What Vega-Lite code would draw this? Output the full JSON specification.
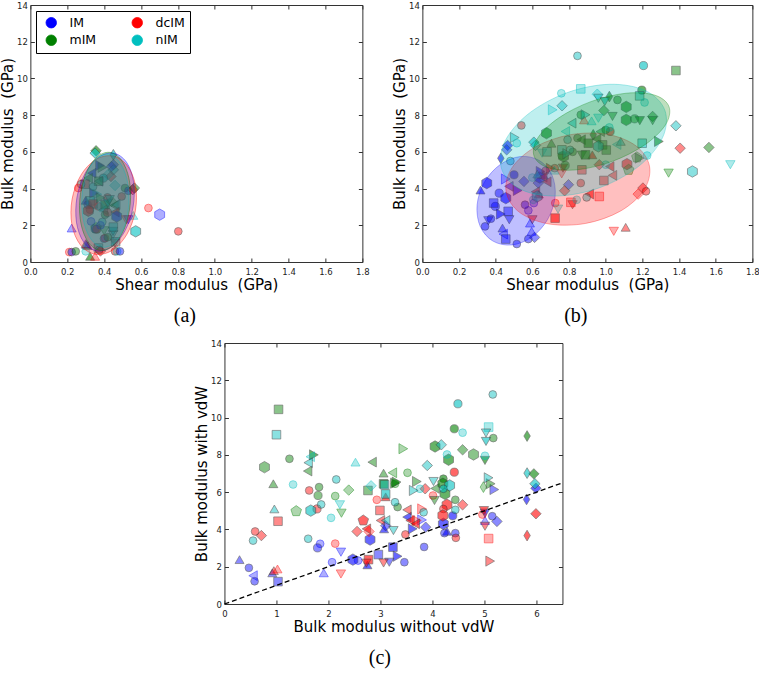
{
"$schema": "https://vega.github.io/schema/vega-lite/v6.json",
"padding": 0,
"background": "white",
"config": {
  "font": "DejaVu Sans",
  "view": {"stroke": "#333", "strokeWidth": 1},
  "axis": {"grid": false, "domain": false, "tickSize": -4, "tickColor": "#333", "tickWidth": 1, "labelFontSize": 8.5, "labelColor": "#222", "labelPadding": 9.5, "labelFlush": false, "titleFontSize": 15, "titleFontWeight": "normal", "titleColor": "#000", "titlePadding": 1},
  "axisY": {"labelPadding": 7, "titlePadding": 1}
},
"datasets": {
"pa": [
{"x":0.356,"y":6.06,"g":"mIM","m":"D","f":"full"},
{"x":0.351,"y":5.93,"g":"nIM","m":"D","f":"full"},
{"x":0.45,"y":5.84,"g":"nIM","m":"d","f":"full"},
{"x":0.378,"y":5.26,"g":"IM","m":">","f":"full"},
{"x":0.45,"y":5.3,"g":"IM","m":"D","f":"half"},
{"x":0.39,"y":5.15,"g":"mIM","m":">","f":"half"},
{"x":0.45,"y":5.02,"g":"nIM","m":"D","f":"half"},
{"x":0.437,"y":4.66,"g":"dcIM","m":"D","f":"half"},
{"x":0.42,"y":4.75,"g":"nIM","m":"D","f":"none"},
{"x":0.396,"y":4.57,"g":"nIM","m":"O","f":"full"},
{"x":0.333,"y":4.84,"g":"IM","m":"<","f":"full"},
{"x":0.314,"y":4.57,"g":"mIM","m":"<","f":"half"},
{"x":0.37,"y":4.4,"g":"nIM","m":"<","f":"half"},
{"x":0.459,"y":4.17,"g":"nIM","m":"D","f":"none"},
{"x":0.296,"y":4.24,"g":"dcIM","m":"s","f":"half"},
{"x":0.275,"y":4.24,"g":"nIM","m":"o","f":"half"},
{"x":0.26,"y":4.03,"g":"dcIM","m":"o","f":"none"},
{"x":0.513,"y":4.03,"g":"mIM","m":"o","f":"half"},
{"x":0.531,"y":3.88,"g":"IM","m":"o","f":"half"},
{"x":0.555,"y":3.94,"g":"dcIM","m":"D","f":"half"},
{"x":0.564,"y":4.03,"g":"mIM","m":"D","f":"half"},
{"x":0.345,"y":3.75,"g":"IM","m":">","f":"full"},
{"x":0.363,"y":3.69,"g":"nIM","m":">","f":"none"},
{"x":0.418,"y":3.52,"g":"dcIM","m":"o","f":"half"},
{"x":0.495,"y":3.57,"g":"dcIM","m":"o","f":"half"},
{"x":0.3,"y":3.36,"g":"IM","m":"^","f":"full"},
{"x":0.311,"y":3.12,"g":"IM","m":"o","f":"half"},
{"x":0.325,"y":3.33,"g":"nIM","m":"s","f":"half"},
{"x":0.34,"y":3.16,"g":"dcIM","m":"s","f":"full"},
{"x":0.323,"y":2.85,"g":"dcIM","m":"o","f":"half"},
{"x":0.314,"y":2.79,"g":"dcIM","m":"h","f":"full"},
{"x":0.369,"y":3.03,"g":"dcIM","m":"o","f":"none"},
{"x":0.395,"y":2.85,"g":"nIM","m":"<","f":"half"},
{"x":0.405,"y":3.12,"g":"mIM","m":"s","f":"full"},
{"x":0.42,"y":3.2,"g":"nIM","m":"v","f":"full"},
{"x":0.454,"y":3.08,"g":"mIM","m":"<","f":"half"},
{"x":0.463,"y":3.12,"g":"nIM","m":"<","f":"half"},
{"x":0.459,"y":2.72,"g":"dcIM","m":"<","f":"full"},
{"x":0.468,"y":2.48,"g":"IM","m":"h","f":"full"},
{"x":0.405,"y":2.58,"g":"mIM","m":"o","f":"half"},
{"x":0.418,"y":2.7,"g":"dcIM","m":"O","f":"half"},
{"x":0.329,"y":2.21,"g":"IM","m":"o","f":"none"},
{"x":0.39,"y":2.18,"g":"nIM","m":"o","f":"half"},
{"x":0.356,"y":1.85,"g":"mIM","m":"p","f":"none"},
{"x":0.351,"y":1.8,"g":"IM","m":"O","f":"half"},
{"x":0.36,"y":1.78,"g":"dcIM","m":"O","f":"half"},
{"x":0.224,"y":1.85,"g":"IM","m":"^","f":"none"},
{"x":0.4,"y":1.7,"g":"mIM","m":"v","f":"none"},
{"x":0.399,"y":1.27,"g":"IM","m":"o","f":"half"},
{"x":0.405,"y":1.3,"g":"dcIM","m":"o","f":"none"},
{"x":0.448,"y":1.49,"g":"nIM","m":"v","f":"half"},
{"x":0.448,"y":1.67,"g":"nIM","m":"v","f":"full"},
{"x":0.459,"y":1.03,"g":"dcIM","m":"v","f":"half"},
{"x":0.462,"y":1.1,"g":"nIM","m":"s","f":"half"},
{"x":0.311,"y":0.89,"g":"mIM","m":"^","f":"half"},
{"x":0.303,"y":0.95,"g":"IM","m":"^","f":"full"},
{"x":0.369,"y":0.76,"g":"nIM","m":"s","f":"half"},
{"x":0.373,"y":0.66,"g":"nIM","m":"o","f":"half"},
{"x":0.38,"y":0.6,"g":"dcIM","m":"D","f":"half"},
{"x":0.459,"y":0.58,"g":"dcIM","m":"o","f":"half"},
{"x":0.47,"y":0.58,"g":"nIM","m":"o","f":"none"},
{"x":0.486,"y":0.58,"g":"IM","m":"o","f":"half"},
{"x":0.211,"y":0.54,"g":"dcIM","m":"o","f":"none"},
{"x":0.224,"y":0.54,"g":"IM","m":"o","f":"half"},
{"x":0.246,"y":0.58,"g":"mIM","m":"o","f":"half"},
{"x":0.3,"y":0.58,"g":"nIM","m":"o","f":"none"},
{"x":0.324,"y":0.31,"g":"mIM","m":"^","f":"full"},
{"x":0.351,"y":0.31,"g":"dcIM","m":"^","f":"none"},
{"x":0.64,"y":2.94,"g":"dcIM","m":"o","f":"none"},
{"x":0.701,"y":2.58,"g":"IM","m":"h","f":"none"},
{"x":0.802,"y":1.67,"g":"dcIM","m":"o","f":"half"},
{"x":0.571,"y":1.67,"g":"nIM","m":"h","f":"full"},
{"x":0.558,"y":2.54,"g":"nIM","m":"^","f":"none"},
{"x":0.531,"y":2.3,"g":"IM","m":"v","f":"none"},
{"x":0.52,"y":2.3,"g":"dcIM","m":"v","f":"none"},
{"x":0.38,"y":3.5,"g":"mIM","m":">","f":"half"},
{"x":0.34,"y":4.1,"g":"nIM","m":"o","f":"half"},
{"x":0.44,"y":3.3,"g":"mIM","m":"D","f":"none"},
{"x":0.45,"y":1.9,"g":"nIM","m":"s","f":"half"},
{"x":0.38,"y":2.0,"g":"IM","m":"o","f":"none"},
{"x":0.42,"y":1.35,"g":"mIM","m":"o","f":"half"},
{"x":0.3,"y":1.0,"g":"nIM","m":"^","f":"half"},
{"x":0.38,"y":3.0,"g":"nIM","m":"D","f":"none"},
{"x":0.43,"y":3.4,"g":"nIM","m":"v","f":"half"},
{"x":0.37,"y":4.4,"g":"mIM","m":"s","f":"half"},
{"x":0.44,"y":5.2,"g":"IM","m":"D","f":"half"}
],
"pb": [
{"x":0.5,"y":4.75,"g":"IM","m":"O","f":"full"},
{"x":0.554,"y":4.39,"g":"IM","m":"D","f":"half"},
{"x":0.52,"y":3.9,"g":"IM","m":">","f":"full"},
{"x":0.56,"y":3.12,"g":"IM","m":"o","f":"half"},
{"x":0.578,"y":2.81,"g":"IM","m":"o","f":"none"},
{"x":0.608,"y":3.21,"g":"IM","m":"o","f":"none"},
{"x":0.472,"y":4.12,"g":"IM","m":"<","f":"half"},
{"x":0.455,"y":4.52,"g":"IM","m":">","f":"none"},
{"x":0.419,"y":3.75,"g":"IM","m":"O","f":"half"},
{"x":0.455,"y":3.48,"g":"IM","m":"h","f":"full"},
{"x":0.351,"y":4.3,"g":"IM","m":"h","f":"full"},
{"x":0.317,"y":3.92,"g":"IM","m":"^","f":"full"},
{"x":0.398,"y":3.03,"g":"IM","m":"O","f":"half"},
{"x":0.428,"y":2.61,"g":"IM","m":">","f":"full"},
{"x":0.468,"y":2.76,"g":"IM","m":"s","f":"half"},
{"x":0.474,"y":2.3,"g":"IM","m":"v","f":"half"},
{"x":0.374,"y":2.36,"g":"IM","m":"o","f":"half"},
{"x":0.36,"y":2.25,"g":"IM","m":"v","f":"half"},
{"x":0.342,"y":1.94,"g":"IM","m":"o","f":"half"},
{"x":0.437,"y":1.85,"g":"IM","m":"^","f":"half"},
{"x":0.441,"y":1.52,"g":"IM","m":"<","f":"none"},
{"x":0.455,"y":1.25,"g":"IM","m":"s","f":"half"},
{"x":0.515,"y":0.98,"g":"IM","m":"o","f":"half"},
{"x":0.578,"y":1.25,"g":"IM","m":"o","f":"half"},
{"x":0.612,"y":1.34,"g":"IM","m":"D","f":"half"},
{"x":0.596,"y":1.67,"g":"IM","m":"^","f":"none"},
{"x":0.587,"y":2.12,"g":"IM","m":"^","f":"none"},
{"x":0.465,"y":6.35,"g":"IM","m":"D","f":"full"},
{"x":0.46,"y":6.11,"g":"IM","m":"D","f":"half"},
{"x":0.428,"y":5.65,"g":"IM","m":"d","f":"full"},
{"x":0.645,"y":4.93,"g":"IM","m":">","f":"full"},
{"x":0.632,"y":4.3,"g":"IM","m":"D","f":"half"},
{"x":0.797,"y":4.21,"g":"IM","m":"D","f":"half"},
{"x":0.389,"y":3.21,"g":"IM","m":"s","f":"half"},
{"x":0.66,"y":4.75,"g":"IM","m":"^","f":"full"},
{"x":0.64,"y":4.6,"g":"IM","m":"h","f":"full"},
{"x":0.54,"y":7.44,"g":"dcIM","m":"o","f":"half"},
{"x":1.024,"y":7.11,"g":"dcIM","m":"O","f":"full"},
{"x":0.882,"y":7.74,"g":"dcIM","m":"^","f":"none"},
{"x":0.927,"y":5.84,"g":"dcIM","m":"^","f":"full"},
{"x":0.767,"y":5.11,"g":"dcIM","m":"v","f":"full"},
{"x":0.722,"y":5.11,"g":"dcIM","m":"o","f":"half"},
{"x":0.7,"y":5.1,"g":"dcIM","m":">","f":"full"},
{"x":0.87,"y":5.02,"g":"dcIM","m":"s","f":"half"},
{"x":0.965,"y":5.3,"g":"dcIM","m":"D","f":"half"},
{"x":1.022,"y":5.2,"g":"dcIM","m":"<","f":"full"},
{"x":1.037,"y":4.72,"g":"dcIM","m":"<","f":"half"},
{"x":0.99,"y":4.44,"g":"dcIM","m":"s","f":"half"},
{"x":1.116,"y":5.33,"g":"dcIM","m":"h","f":"full"},
{"x":1.203,"y":4.03,"g":"dcIM","m":"D","f":"half"},
{"x":1.22,"y":3.85,"g":"dcIM","m":"o","f":"half"},
{"x":1.177,"y":3.7,"g":"dcIM","m":"D","f":"none"},
{"x":1.109,"y":1.89,"g":"dcIM","m":"^","f":"half"},
{"x":1.044,"y":1.67,"g":"dcIM","m":"v","f":"none"},
{"x":0.965,"y":3.57,"g":"dcIM","m":"s","f":"none"},
{"x":0.911,"y":3.7,"g":"dcIM","m":"<","f":"full"},
{"x":0.819,"y":3.12,"g":"dcIM","m":"v","f":"half"},
{"x":0.81,"y":3.25,"g":"dcIM","m":"s","f":"none"},
{"x":0.725,"y":3.21,"g":"dcIM","m":"o","f":"none"},
{"x":0.724,"y":2.39,"g":"dcIM","m":"s","f":"full"},
{"x":0.864,"y":4.3,"g":"dcIM","m":"o","f":"half"},
{"x":0.776,"y":3.88,"g":"dcIM","m":"D","f":"half"},
{"x":0.672,"y":4.97,"g":"dcIM","m":"o","f":"half"},
{"x":0.657,"y":4.62,"g":"dcIM","m":"<","f":"full"},
{"x":0.679,"y":4.37,"g":"dcIM","m":"<","f":"full"},
{"x":0.617,"y":3.83,"g":"dcIM","m":"<","f":"full"},
{"x":0.635,"y":3.7,"g":"dcIM","m":"^","f":"full"},
{"x":0.6,"y":2.3,"g":"dcIM","m":"v","f":"half"},
{"x":1.406,"y":6.2,"g":"dcIM","m":"D","f":"half"},
{"x":0.76,"y":4.8,"g":"dcIM","m":"v","f":"none"},
{"x":1.383,"y":10.43,"g":"mIM","m":"s","f":"half"},
{"x":1.197,"y":9.36,"g":"mIM","m":"O","f":"full"},
{"x":1.02,"y":9.01,"g":"mIM","m":"d","f":"full"},
{"x":1.064,"y":8.83,"g":"mIM","m":"o","f":"half"},
{"x":1.112,"y":8.45,"g":"mIM","m":"h","f":"full"},
{"x":0.864,"y":8.02,"g":"mIM","m":"o","f":"half"},
{"x":0.99,"y":8.25,"g":"mIM","m":"D","f":"half"},
{"x":1.037,"y":7.93,"g":"mIM","m":"v","f":"half"},
{"x":1.112,"y":7.74,"g":"mIM","m":"h","f":"full"},
{"x":1.158,"y":7.8,"g":"mIM","m":"O","f":"half"},
{"x":1.186,"y":7.7,"g":"mIM","m":"v","f":"full"},
{"x":1.256,"y":7.93,"g":"mIM","m":"D","f":"half"},
{"x":1.256,"y":7.7,"g":"mIM","m":"v","f":"half"},
{"x":0.677,"y":7.02,"g":"mIM","m":"h","f":"full"},
{"x":0.932,"y":6.93,"g":"mIM","m":"d","f":"full"},
{"x":0.97,"y":7.1,"g":"mIM","m":"<","f":"half"},
{"x":1.29,"y":6.57,"g":"mIM","m":">","f":"full"},
{"x":0.704,"y":6.47,"g":"mIM","m":"^","f":"half"},
{"x":0.846,"y":6.75,"g":"mIM","m":"o","f":"half"},
{"x":0.866,"y":6.66,"g":"mIM","m":"<","f":"full"},
{"x":0.905,"y":6.47,"g":"mIM","m":"s","f":"full"},
{"x":0.983,"y":6.38,"g":"mIM","m":"s","f":"half"},
{"x":1.003,"y":6.1,"g":"mIM","m":"s","f":"half"},
{"x":0.77,"y":5.75,"g":"mIM","m":"h","f":"full"},
{"x":0.87,"y":5.82,"g":"mIM","m":"v","f":"half"},
{"x":0.89,"y":5.84,"g":"mIM","m":"s","f":"full"},
{"x":0.779,"y":5.26,"g":"mIM","m":"O","f":"half"},
{"x":1.125,"y":5.02,"g":"mIM","m":"p","f":"none"},
{"x":1.185,"y":5.66,"g":"mIM","m":">","f":"half"},
{"x":1.563,"y":6.24,"g":"mIM","m":"D","f":"half"},
{"x":1.343,"y":4.84,"g":"mIM","m":"v","f":"none"},
{"x":0.82,"y":6.0,"g":"mIM","m":"o","f":"half"},
{"x":0.76,"y":5.8,"g":"mIM","m":"o","f":"none"},
{"x":1.17,"y":5.7,"g":"mIM","m":"p","f":"none"},
{"x":0.95,"y":6.7,"g":"mIM","m":"<","f":"full"},
{"x":1.0,"y":7.2,"g":"mIM","m":"o","f":"half"},
{"x":0.846,"y":11.23,"g":"nIM","m":"o","f":"half"},
{"x":1.206,"y":10.7,"g":"nIM","m":"O","f":"full"},
{"x":0.864,"y":9.43,"g":"nIM","m":"s","f":"none"},
{"x":0.758,"y":9.19,"g":"nIM","m":"o","f":"none"},
{"x":0.954,"y":9.14,"g":"nIM","m":"D","f":"none"},
{"x":0.96,"y":8.92,"g":"nIM","m":"v","f":"half"},
{"x":0.995,"y":8.74,"g":"nIM","m":"v","f":"full"},
{"x":1.185,"y":9.05,"g":"nIM","m":"s","f":"half"},
{"x":1.212,"y":8.69,"g":"nIM","m":"o","f":"none"},
{"x":0.762,"y":8.51,"g":"nIM","m":"D","f":"half"},
{"x":0.711,"y":8.29,"g":"nIM","m":">","f":"none"},
{"x":0.89,"y":8.02,"g":"nIM","m":">","f":"half"},
{"x":0.96,"y":7.83,"g":"nIM","m":"v","f":"none"},
{"x":0.923,"y":7.69,"g":"nIM","m":"^","f":"none"},
{"x":0.815,"y":7.56,"g":"nIM","m":"<","f":"half"},
{"x":0.78,"y":7.11,"g":"nIM","m":"<","f":"none"},
{"x":1.02,"y":7.33,"g":"nIM","m":"o","f":"none"},
{"x":1.199,"y":6.47,"g":"nIM","m":"s","f":"half"},
{"x":1.082,"y":6.57,"g":"nIM","m":"^","f":"half"},
{"x":1.06,"y":6.4,"g":"nIM","m":"<","f":"none"},
{"x":1.383,"y":7.42,"g":"nIM","m":"D","f":"half"},
{"x":0.504,"y":6.78,"g":"nIM","m":">","f":"half"},
{"x":0.515,"y":6.47,"g":"nIM","m":"o","f":"none"},
{"x":0.608,"y":6.53,"g":"nIM","m":"D","f":"full"},
{"x":0.617,"y":6.35,"g":"nIM","m":"D","f":"half"},
{"x":0.792,"y":6.66,"g":"nIM","m":"o","f":"half"},
{"x":0.653,"y":5.93,"g":"nIM","m":"v","f":"none"},
{"x":0.68,"y":6.0,"g":"nIM","m":"s","f":"half"},
{"x":0.761,"y":6.11,"g":"nIM","m":"s","f":"half"},
{"x":0.806,"y":6.11,"g":"nIM","m":"o","f":"half"},
{"x":0.79,"y":5.9,"g":"nIM","m":">","f":"half"},
{"x":0.627,"y":4.79,"g":"nIM","m":"^","f":"full"},
{"x":0.6,"y":4.6,"g":"nIM","m":"o","f":"none"},
{"x":0.626,"y":3.57,"g":"nIM","m":"h","f":"full"},
{"x":0.605,"y":3.39,"g":"nIM","m":"o","f":"none"},
{"x":0.896,"y":3.52,"g":"nIM","m":"o","f":"half"},
{"x":0.842,"y":3.39,"g":"nIM","m":"o","f":"none"},
{"x":0.74,"y":2.88,"g":"nIM","m":"v","f":"none"},
{"x":1.473,"y":4.93,"g":"nIM","m":"h","f":"half"},
{"x":1.68,"y":5.3,"g":"nIM","m":"v","f":"none"},
{"x":1.226,"y":5.8,"g":"nIM","m":"o","f":"none"},
{"x":0.48,"y":5.5,"g":"nIM","m":"o","f":"half"},
{"x":0.96,"y":6.3,"g":"nIM","m":"h","f":"full"},
{"x":1.0,"y":5.3,"g":"nIM","m":"o","f":"none"},
{"x":0.72,"y":5.0,"g":"nIM","m":"^","f":"none"}
],
"pc": [
{"x":0.29,"y":2.38,"g":"IM","m":"^","f":"half"},
{"x":0.47,"y":1.94,"g":"IM","m":"o","f":"half"},
{"x":0.58,"y":1.22,"g":"IM","m":"o","f":"half"},
{"x":0.55,"y":1.52,"g":"IM","m":"<","f":"none"},
{"x":0.92,"y":1.67,"g":"IM","m":"^","f":"half"},
{"x":1.03,"y":1.2,"g":"IM","m":"s","f":"half"},
{"x":1.84,"y":3.23,"g":"IM","m":"o","f":"none"},
{"x":1.79,"y":3.01,"g":"IM","m":"O","f":"half"},
{"x":2.24,"y":2.78,"g":"IM","m":"v","f":"none"},
{"x":2.8,"y":3.46,"g":"IM","m":"h","f":"full"},
{"x":3.07,"y":4.03,"g":"IM","m":"^","f":"full"},
{"x":3.1,"y":4.2,"g":"IM","m":"D","f":"half"},
{"x":3.24,"y":3.05,"g":"IM","m":"s","f":"full"},
{"x":2.96,"y":2.65,"g":"IM","m":"s","f":"half"},
{"x":3.33,"y":2.56,"g":"IM","m":">","f":"full"},
{"x":3.17,"y":2.24,"g":"IM","m":"v","f":"half"},
{"x":2.47,"y":2.38,"g":"IM","m":"h","f":"full"},
{"x":2.57,"y":2.33,"g":"IM","m":"o","f":"none"},
{"x":2.07,"y":2.24,"g":"IM","m":"o","f":"none"},
{"x":1.91,"y":1.67,"g":"IM","m":"^","f":"none"},
{"x":2.75,"y":2.1,"g":"IM","m":"^","f":"full"},
{"x":3.51,"y":4.66,"g":"IM","m":"<","f":"full"},
{"x":3.8,"y":4.51,"g":"IM","m":">","f":"none"},
{"x":3.62,"y":4.03,"g":"IM","m":">","f":"full"},
{"x":3.87,"y":4.12,"g":"IM","m":"D","f":"half"},
{"x":4.21,"y":4.3,"g":"IM","m":"h","f":"full"},
{"x":4.28,"y":3.9,"g":"IM","m":"^","f":"full"},
{"x":4.23,"y":3.8,"g":"IM","m":"o","f":"half"},
{"x":4.44,"y":3.8,"g":"IM","m":"o","f":"half"},
{"x":4.39,"y":4.73,"g":"IM","m":"O","f":"full"},
{"x":5.01,"y":4.87,"g":"IM","m":"v","f":"full"},
{"x":5.15,"y":4.71,"g":"IM","m":"o","f":"half"},
{"x":5.01,"y":4.48,"g":"IM","m":"^","f":"none"},
{"x":5.24,"y":4.43,"g":"IM","m":"D","f":"half"},
{"x":5.19,"y":6.14,"g":"IM","m":">","f":"half"},
{"x":5.99,"y":6.21,"g":"IM","m":"D","f":"full"},
{"x":5.81,"y":5.61,"g":"IM","m":"d","f":"full"},
{"x":3.84,"y":3.06,"g":"IM","m":"o","f":"half"},
{"x":3.46,"y":2.24,"g":"IM","m":"o","f":"half"},
{"x":1.63,"y":6.09,"g":"dcIM","m":"o","f":"half"},
{"x":1.78,"y":5.1,"g":"dcIM","m":"O","f":"half"},
{"x":2.93,"y":5.59,"g":"dcIM","m":"o","f":"none"},
{"x":2.99,"y":5.02,"g":"dcIM","m":"s","f":"half"},
{"x":3.1,"y":5.75,"g":"dcIM","m":"^","f":"full"},
{"x":1.03,"y":4.44,"g":"dcIM","m":"s","f":"half"},
{"x":0.59,"y":3.89,"g":"dcIM","m":"o","f":"half"},
{"x":0.71,"y":3.67,"g":"dcIM","m":"D","f":"half"},
{"x":2.13,"y":3.24,"g":"dcIM","m":"o","f":"none"},
{"x":2.67,"y":4.48,"g":"dcIM","m":"p","f":"full"},
{"x":2.73,"y":4.03,"g":"dcIM","m":"<","f":"full"},
{"x":2.78,"y":3.89,"g":"dcIM","m":"D","f":"none"},
{"x":2.55,"y":3.89,"g":"dcIM","m":"D","f":"half"},
{"x":3.0,"y":4.48,"g":"dcIM","m":"<","f":"half"},
{"x":2.77,"y":2.38,"g":"dcIM","m":"s","f":"full"},
{"x":2.73,"y":2.19,"g":"dcIM","m":"v","f":"half"},
{"x":3.06,"y":2.2,"g":"dcIM","m":"v","f":"half"},
{"x":2.24,"y":1.61,"g":"dcIM","m":"v","f":"none"},
{"x":0.95,"y":1.79,"g":"dcIM","m":"^","f":"half"},
{"x":1.02,"y":1.88,"g":"dcIM","m":"^","f":"none"},
{"x":4.42,"y":7.07,"g":"dcIM","m":"O","f":"full"},
{"x":3.86,"y":6.18,"g":"dcIM","m":"D","f":"half"},
{"x":4.01,"y":5.82,"g":"dcIM","m":"o","f":"none"},
{"x":4.58,"y":5.32,"g":"dcIM","m":"D","f":"half"},
{"x":4.28,"y":5.32,"g":"dcIM","m":"h","f":"full"},
{"x":4.21,"y":5.1,"g":"dcIM","m":"o","f":"half"},
{"x":4.2,"y":4.75,"g":"dcIM","m":"h","f":"full"},
{"x":3.51,"y":5.05,"g":"dcIM","m":"<","f":"half"},
{"x":3.8,"y":5.1,"g":"dcIM","m":">","f":"none"},
{"x":3.57,"y":4.48,"g":"dcIM","m":"<","f":"full"},
{"x":3.7,"y":4.48,"g":"dcIM","m":">","f":"none"},
{"x":3.67,"y":4.3,"g":"dcIM","m":"<","f":"full"},
{"x":3.48,"y":3.73,"g":"dcIM","m":"o","f":"half"},
{"x":4.45,"y":3.55,"g":"dcIM","m":"o","f":"half"},
{"x":4.99,"y":5.01,"g":"dcIM","m":"v","f":"full"},
{"x":4.96,"y":4.8,"g":"dcIM","m":"o","f":"none"},
{"x":5.01,"y":4.17,"g":"dcIM","m":"v","f":"half"},
{"x":5.08,"y":3.51,"g":"dcIM","m":"s","f":"none"},
{"x":5.82,"y":3.67,"g":"dcIM","m":"d","f":"full"},
{"x":5.99,"y":4.84,"g":"dcIM","m":"D","f":"full"},
{"x":5.11,"y":2.3,"g":"dcIM","m":">","f":"half"},
{"x":1.04,"y":10.44,"g":"mIM","m":"s","f":"half"},
{"x":1.25,"y":7.79,"g":"mIM","m":"o","f":"half"},
{"x":0.77,"y":7.34,"g":"mIM","m":"h","f":"half"},
{"x":1.72,"y":8.0,"g":"mIM","m":">","f":"full"},
{"x":1.6,"y":7.13,"g":"mIM","m":"<","f":"half"},
{"x":2.84,"y":7.61,"g":"mIM","m":"<","f":"half"},
{"x":3.06,"y":7.02,"g":"mIM","m":"^","f":"half"},
{"x":0.94,"y":6.45,"g":"mIM","m":"^","f":"half"},
{"x":1.82,"y":6.27,"g":"mIM","m":"o","f":"half"},
{"x":2.39,"y":6.11,"g":"mIM","m":"D","f":"none"},
{"x":2.76,"y":6.09,"g":"mIM","m":"s","f":"half"},
{"x":3.06,"y":6.45,"g":"mIM","m":"s","f":"full"},
{"x":3.28,"y":6.48,"g":"mIM","m":">","f":"full"},
{"x":1.8,"y":5.82,"g":"mIM","m":"O","f":"half"},
{"x":2.13,"y":5.79,"g":"mIM","m":"o","f":"none"},
{"x":2.25,"y":4.87,"g":"mIM","m":"v","f":"none"},
{"x":1.38,"y":4.98,"g":"mIM","m":"p","f":"none"},
{"x":3.33,"y":5.2,"g":"mIM","m":"o","f":"half"},
{"x":4.42,"y":9.4,"g":"mIM","m":"O","f":"full"},
{"x":5.17,"y":8.9,"g":"mIM","m":"o","f":"half"},
{"x":5.82,"y":9.01,"g":"mIM","m":"d","f":"full"},
{"x":4.05,"y":8.45,"g":"mIM","m":"h","f":"full"},
{"x":4.58,"y":8.27,"g":"mIM","m":"D","f":"half"},
{"x":4.79,"y":8.02,"g":"mIM","m":"h","f":"half"},
{"x":3.44,"y":8.33,"g":"mIM","m":">","f":"none"},
{"x":4.31,"y":7.74,"g":"mIM","m":"h","f":"full"},
{"x":5.01,"y":7.7,"g":"mIM","m":"v","f":"full"},
{"x":3.52,"y":7.04,"g":"mIM","m":"o","f":"none"},
{"x":5.95,"y":6.98,"g":"mIM","m":"D","f":"full"},
{"x":3.7,"y":6.57,"g":"mIM","m":">","f":"half"},
{"x":4.21,"y":6.72,"g":"mIM","m":"o","f":"full"},
{"x":3.31,"y":6.54,"g":"mIM","m":">","f":"full"},
{"x":3.28,"y":6.45,"g":"mIM","m":"o","f":"none"},
{"x":4.05,"y":6.2,"g":"mIM","m":"<","f":"half"},
{"x":4.24,"y":5.91,"g":"mIM","m":"h","f":"full"},
{"x":4.98,"y":6.27,"g":"mIM","m":"d","f":"none"},
{"x":5.12,"y":6.45,"g":"mIM","m":">","f":"half"},
{"x":4.04,"y":5.55,"g":"mIM","m":"v","f":"half"},
{"x":4.44,"y":5.59,"g":"mIM","m":"o","f":"half"},
{"x":3.23,"y":7.04,"g":"mIM","m":"<","f":"none"},
{"x":4.2,"y":6.45,"g":"mIM","m":"h","f":"full"},
{"x":1.0,"y":9.08,"g":"nIM","m":"s","f":"half"},
{"x":1.65,"y":7.9,"g":"nIM","m":"<","f":"none"},
{"x":1.61,"y":7.58,"g":"nIM","m":"<","f":"half"},
{"x":2.52,"y":7.61,"g":"nIM","m":"^","f":"none"},
{"x":1.32,"y":6.41,"g":"nIM","m":"o","f":"none"},
{"x":2.15,"y":6.68,"g":"nIM","m":"o","f":"half"},
{"x":2.82,"y":6.34,"g":"nIM","m":"D","f":"none"},
{"x":3.08,"y":6.4,"g":"nIM","m":"s","f":"half"},
{"x":1.86,"y":5.34,"g":"nIM","m":"o","f":"half"},
{"x":2.22,"y":5.32,"g":"nIM","m":"v","f":"none"},
{"x":2.05,"y":4.62,"g":"nIM","m":"o","f":"none"},
{"x":0.96,"y":5.1,"g":"nIM","m":"^","f":"half"},
{"x":1.66,"y":5.01,"g":"nIM","m":"h","f":"full"},
{"x":3.28,"y":5.46,"g":"nIM","m":"o","f":"half"},
{"x":0.55,"y":3.4,"g":"nIM","m":"o","f":"half"},
{"x":1.61,"y":3.5,"g":"nIM","m":"o","f":"half"},
{"x":3.1,"y":4.48,"g":"nIM","m":"<","f":"half"},
{"x":3.25,"y":3.94,"g":"nIM","m":"v","f":"half"},
{"x":4.49,"y":10.74,"g":"nIM","m":"O","f":"full"},
{"x":5.16,"y":11.24,"g":"nIM","m":"o","f":"half"},
{"x":4.58,"y":9.19,"g":"nIM","m":"o","f":"none"},
{"x":5.08,"y":9.49,"g":"nIM","m":"s","f":"none"},
{"x":5.03,"y":9.17,"g":"nIM","m":"v","f":"half"},
{"x":5.03,"y":8.72,"g":"nIM","m":"v","f":"full"},
{"x":4.17,"y":8.54,"g":"nIM","m":"D","f":"half"},
{"x":4.28,"y":8.02,"g":"nIM","m":"o","f":"none"},
{"x":3.9,"y":7.43,"g":"nIM","m":"D","f":"half"},
{"x":5.82,"y":7.02,"g":"nIM","m":"d","f":"full"},
{"x":4.02,"y":6.57,"g":"nIM","m":"v","f":"half"},
{"x":5.08,"y":6.77,"g":"nIM","m":">","f":"half"},
{"x":3.76,"y":6.18,"g":"nIM","m":"o","f":"none"},
{"x":3.64,"y":6.09,"g":"nIM","m":">","f":"half"},
{"x":4.33,"y":6.36,"g":"nIM","m":"h","f":"full"},
{"x":4.21,"y":6.18,"g":"nIM","m":"o","f":"full"},
{"x":5.97,"y":6.45,"g":"nIM","m":"D","f":"full"},
{"x":4.44,"y":5.05,"g":"nIM","m":"o","f":"half"},
{"x":3.83,"y":4.92,"g":"nIM","m":"o","f":"half"},
{"x":5.01,"y":7.95,"g":"nIM","m":"o","f":"none"},
{"x":3.1,"y":5.9,"g":"nIM","m":"s","f":"full"}
],
"ea": [
{"g":"IM","i":0,"x":0.4517,"y":5.927},{"g":"IM","i":1,"x":0.3693,"y":5.706},{"g":"IM","i":2,"x":0.2967,"y":4.829},{"g":"IM","i":3,"x":0.2528,"y":3.535},{"g":"IM","i":4,"x":0.2499,"y":2.167},{"g":"IM","i":5,"x":0.2884,"y":1.094},{"g":"IM","i":6,"x":0.358,"y":0.602},{"g":"IM","i":7,"x":0.4404,"y":0.823},{"g":"IM","i":8,"x":0.513,"y":1.699},{"g":"IM","i":9,"x":0.5568,"y":2.994},{"g":"IM","i":10,"x":0.5598,"y":4.362},{"g":"IM","i":11,"x":0.5213,"y":5.434},
{"g":"dcIM","i":0,"x":0.4448,"y":5.777},{"g":"dcIM","i":1,"x":0.3526,"y":5.571},{"g":"dcIM","i":2,"x":0.2725,"y":4.703},{"g":"dcIM","i":3,"x":0.2258,"y":3.406},{"g":"dcIM","i":4,"x":0.2253,"y":2.027},{"g":"dcIM","i":5,"x":0.2709,"y":0.936},{"g":"dcIM","i":6,"x":0.3504,"y":0.425},{"g":"dcIM","i":7,"x":0.4426,"y":0.631},{"g":"dcIM","i":8,"x":0.5228,"y":1.499},{"g":"dcIM","i":9,"x":0.5694,"y":2.796},{"g":"dcIM","i":10,"x":0.5699,"y":4.176},{"g":"dcIM","i":11,"x":0.5243,"y":5.267},
{"g":"mIM","i":0,"x":0.4282,"y":5.974},{"g":"mIM","i":1,"x":0.3567,"y":5.675},{"g":"mIM","i":2,"x":0.2979,"y":4.741},{"g":"mIM","i":3,"x":0.268,"y":3.42},{"g":"mIM","i":4,"x":0.2746,"y":2.067},{"g":"mIM","i":5,"x":0.3162,"y":1.046},{"g":"mIM","i":6,"x":0.3815,"y":0.627},{"g":"mIM","i":7,"x":0.453,"y":0.927},{"g":"mIM","i":8,"x":0.5117,"y":1.861},{"g":"mIM","i":9,"x":0.5417,"y":3.181},{"g":"mIM","i":10,"x":0.5351,"y":4.534},{"g":"mIM","i":11,"x":0.4935,"y":5.555},
{"g":"nIM","i":0,"x":0.4155,"y":5.874},{"g":"nIM","i":1,"x":0.3503,"y":5.557},{"g":"nIM","i":2,"x":0.3001,"y":4.645},{"g":"nIM","i":3,"x":0.2785,"y":3.382},{"g":"nIM","i":4,"x":0.2913,"y":2.107},{"g":"nIM","i":5,"x":0.3349,"y":1.162},{"g":"nIM","i":6,"x":0.3978,"y":0.8},{"g":"nIM","i":7,"x":0.463,"y":1.117},{"g":"nIM","i":8,"x":0.5132,"y":2.029},{"g":"nIM","i":9,"x":0.5348,"y":3.292},{"g":"nIM","i":10,"x":0.522,"y":4.567},{"g":"nIM","i":11,"x":0.4784,"y":5.511}
],
"eb": [
{"g":"IM","i":0,"x":0.637,"y":5.535},{"g":"IM","i":1,"x":0.534,"y":5.744},{"g":"IM","i":2,"x":0.4245,"y":5.308},{"g":"IM","i":3,"x":0.338,"y":4.343},{"g":"IM","i":4,"x":0.2985,"y":3.11},{"g":"IM","i":5,"x":0.3156,"y":1.937},{"g":"IM","i":6,"x":0.385,"y":1.139},{"g":"IM","i":7,"x":0.489,"y":0.93},{"g":"IM","i":8,"x":0.598,"y":1.366},{"g":"IM","i":9,"x":0.684,"y":2.33},{"g":"IM","i":10,"x":0.724,"y":3.564},{"g":"IM","i":11,"x":0.707,"y":4.737},
{"g":"dcIM","i":0,"x":1.239,"y":5.212},{"g":"dcIM","i":1,"x":1.165,"y":6.327},{"g":"dcIM","i":2,"x":1.007,"y":6.957},{"g":"dcIM","i":3,"x":0.806,"y":6.932},{"g":"dcIM","i":4,"x":0.615,"y":6.26},{"g":"dcIM","i":5,"x":0.488,"y":5.12},{"g":"dcIM","i":6,"x":0.457,"y":3.82},{"g":"dcIM","i":7,"x":0.53,"y":2.704},{"g":"dcIM","i":8,"x":0.689,"y":2.075},{"g":"dcIM","i":9,"x":0.89,"y":2.1},{"g":"dcIM","i":10,"x":1.08,"y":2.771},{"g":"dcIM","i":11,"x":1.208,"y":3.912},
{"g":"nIM","i":0,"x":1.3227,"y":8.266},{"g":"nIM","i":1,"x":1.2167,"y":9.334},{"g":"nIM","i":2,"x":1.0202,"y":9.681},{"g":"nIM","i":3,"x":0.7856,"y":9.211},{"g":"nIM","i":4,"x":0.5759,"y":8.052},{"g":"nIM","i":5,"x":0.4473,"y":6.513},{"g":"nIM","i":6,"x":0.4343,"y":5.009},{"g":"nIM","i":7,"x":0.5402,"y":3.941},{"g":"nIM","i":8,"x":0.7368,"y":3.594},{"g":"nIM","i":9,"x":0.9714,"y":4.064},{"g":"nIM","i":10,"x":1.1811,"y":5.223},{"g":"nIM","i":11,"x":1.3096,"y":6.762},
{"g":"mIM","i":0,"x":1.3455,"y":8.458},{"g":"mIM","i":1,"x":1.267,"y":9.091},{"g":"mIM","i":2,"x":1.1107,"y":9.193},{"g":"mIM","i":3,"x":0.9188,"y":8.736},{"g":"mIM","i":4,"x":0.7428,"y":7.844},{"g":"mIM","i":5,"x":0.6293,"y":6.755},{"g":"mIM","i":6,"x":0.6095,"y":5.76},{"g":"mIM","i":7,"x":0.688,"y":5.128},{"g":"mIM","i":8,"x":0.8443,"y":5.025},{"g":"mIM","i":9,"x":1.0362,"y":5.482},{"g":"mIM","i":10,"x":1.2122,"y":6.375},{"g":"mIM","i":11,"x":1.3256,"y":7.464}
],
"dl": [{"x":0,"y":0},{"x":6.5,"y":6.5}]
},
"vconcat": [
{"hconcat": [
{
 "width": 332, "height": 257,
 "title": {"text": "(a)", "orient": "bottom", "anchor": "middle", "frame": "bounds", "offset": 14, "font": "Liberation Serif", "fontSize": 20, "fontWeight": "normal", "color": "#000"},
 "layer": [
  {"data": {"name": "pa"},
   "mark": {"type": "point", "filled": true, "strokeWidth": 0.8, "strokeOpacity": 0.8},
   "encoding": {
     "x": {"field": "x", "type": "quantitative", "scale": {"domain": [0, 1.8], "nice": false, "zero": false}, "axis": {"values": [0,0.2,0.4,0.6,0.8,1,1.2,1.4,1.6,1.8], "format": ".1f", "title": "Shear modulus \u00a0(GPa)"}},
     "y": {"field": "y", "type": "quantitative", "scale": {"domain": [0, 14], "nice": false}, "axis": {"values": [0,2,4,6,8,10,12,14], "title": "Bulk modulus \u00a0(GPa)"}},
     "color": {"field": "g", "type": "nominal", "scale": {"domain": ["IM","mIM","dcIM","nIM"], "range": ["#0000ff","#008000","#ff0000","#00bfbf"]},
       "legend": {"orient": "none", "legendX": 6, "legendY": 6, "columns": 2, "title": null, "symbolType": "circle", "symbolSize": 110, "symbolStrokeColor": "#000", "symbolStrokeWidth": 0.8, "symbolOpacity": 1, "labelFontSize": 12.5, "labelFont": "DejaVu Sans", "labelColor": "#000", "labelOffset": 12, "columnPadding": 30, "rowPadding": 3, "padding": 5, "symbolOffset": 4, "strokeColor": "#000", "fillColor": "#fff",
         "encode": {"symbols": {"update": {"fillOpacity": {"value": 1}, "strokeOpacity": {"value": 1}}}}}},
     "shape": {"field": "m", "type": "nominal", "scale": {"domain": ["o","O","s","^","v","<",">","D","d","p","h"], "range": ["circle","circle","square","triangle-up","triangle-down","triangle-left","triangle-right","diamond","M0,-1L0.6,0L0,1L-0.6,0Z","M0,-1L0.951,-0.309L0.588,0.809L-0.588,0.809L-0.951,-0.309Z","M0,-1L0.866,-0.5L0.866,0.5L0,1L-0.866,0.5L-0.866,-0.5Z"]}, "legend": null},
     "size": {"field": "m", "type": "nominal", "scale": {"domain": ["o","O","s","^","v","<",">","D","d","p","h"], "range": [60,130,55,65,65,65,65,110,70,65,36]}, "legend": null},
     "fillOpacity": {"field": "f", "type": "nominal", "scale": {"domain": ["full","half","none"], "range": [0.85,0.45,0]}, "legend": null},
     "stroke": {"condition": {"test": "datum.f === 'none'", "field": "g", "type": "nominal", "scale": {"domain": ["IM","mIM","dcIM","nIM"], "range": ["#0000ff","#008000","#ff0000","#00bfbf"]}, "legend": null}, "value": "#333"}
   }},
  {"data": {"name": "ea"},
   "mark": {"type": "line", "interpolate": "cardinal-closed", "strokeWidth": 1, "fillOpacity": 0.25, "strokeOpacity": 0.4},
   "encoding": {
     "x": {"field": "x", "type": "quantitative", "axis": {"orient": "top", "values": [0,0.2,0.4,0.6,0.8,1,1.2,1.4,1.6,1.8], "labels": false, "title": null}},
     "y": {"field": "y", "type": "quantitative", "axis": {"orient": "right", "values": [0,2,4,6,8,10,12,14], "labels": false, "title": null}},
     "order": {"field": "i", "type": "quantitative"},
     "fill": {"field": "g", "type": "nominal", "scale": {"domain": ["IM","mIM","dcIM","nIM"], "range": ["#0000ff","#008000","#ff0000","#00bfbf"]}, "legend": null},
     "stroke": {"field": "g", "type": "nominal", "scale": {"domain": ["IM","mIM","dcIM","nIM"], "range": ["#0000ff","#008000","#ff0000","#00bfbf"]}, "legend": null}
   }}
 ],
 "resolve": {"axis": {"x": "independent", "y": "independent"}}
},
{
 "width": 330, "height": 257,
 "title": {"text": "(b)", "orient": "bottom", "anchor": "middle", "frame": "bounds", "offset": 14, "font": "Liberation Serif", "fontSize": 20, "fontWeight": "normal", "color": "#000"},
 "layer": [
  {"data": {"name": "pb"},
   "mark": {"type": "point", "filled": true, "strokeWidth": 0.8, "strokeOpacity": 0.8},
   "encoding": {
     "x": {"field": "x", "type": "quantitative", "scale": {"domain": [0, 1.8], "nice": false, "zero": false}, "axis": {"values": [0,0.2,0.4,0.6,0.8,1,1.2,1.4,1.6,1.8], "format": ".1f", "title": "Shear modulus \u00a0(GPa)"}},
     "y": {"field": "y", "type": "quantitative", "scale": {"domain": [0, 14], "nice": false}, "axis": {"values": [0,2,4,6,8,10,12,14], "title": "Bulk modulus \u00a0(GPa)"}},
     "color": {"field": "g", "type": "nominal", "scale": {"domain": ["IM","mIM","dcIM","nIM"], "range": ["#0000ff","#008000","#ff0000","#00bfbf"]},
       "legend": {"orient": "none", "legendX": 5, "legendY": 6, "columns": 2, "title": null, "symbolType": "circle", "symbolSize": 110, "symbolStrokeColor": "#000", "symbolStrokeWidth": 0.8, "symbolOpacity": 1, "labelFontSize": 12.5, "labelFont": "DejaVu Sans", "labelColor": "#000", "labelOffset": 12, "columnPadding": 30, "rowPadding": 3, "padding": 5, "symbolOffset": 4, "strokeColor": "#000", "fillColor": "#fff",
         "encode": {"symbols": {"update": {"fillOpacity": {"value": 1}, "strokeOpacity": {"value": 1}}}}}},
     "shape": {"field": "m", "type": "nominal", "scale": {"domain": ["o","O","s","^","v","<",">","D","d","p","h"], "range": ["circle","circle","square","triangle-up","triangle-down","triangle-left","triangle-right","diamond","M0,-1L0.6,0L0,1L-0.6,0Z","M0,-1L0.951,-0.309L0.588,0.809L-0.588,0.809L-0.951,-0.309Z","M0,-1L0.866,-0.5L0.866,0.5L0,1L-0.866,0.5L-0.866,-0.5Z"]}, "legend": null},
     "size": {"field": "m", "type": "nominal", "scale": {"domain": ["o","O","s","^","v","<",">","D","d","p","h"], "range": [60,130,55,65,65,65,65,110,70,65,36]}, "legend": null},
     "fillOpacity": {"field": "f", "type": "nominal", "scale": {"domain": ["full","half","none"], "range": [0.85,0.45,0]}, "legend": null},
     "stroke": {"condition": {"test": "datum.f === 'none'", "field": "g", "type": "nominal", "scale": {"domain": ["IM","mIM","dcIM","nIM"], "range": ["#0000ff","#008000","#ff0000","#00bfbf"]}, "legend": null}, "value": "#333"}
   }},
  {"data": {"name": "eb"},
   "mark": {"type": "line", "interpolate": "cardinal-closed", "strokeWidth": 1, "fillOpacity": 0.25, "strokeOpacity": 0.3},
   "encoding": {
     "x": {"field": "x", "type": "quantitative", "axis": {"orient": "top", "values": [0,0.2,0.4,0.6,0.8,1,1.2,1.4,1.6,1.8], "labels": false, "title": null}},
     "y": {"field": "y", "type": "quantitative", "axis": {"orient": "right", "values": [0,2,4,6,8,10,12,14], "labels": false, "title": null}},
     "order": {"field": "i", "type": "quantitative"},
     "fill": {"field": "g", "type": "nominal", "scale": {"domain": ["IM","mIM","dcIM","nIM"], "range": ["#0000ff","#008000","#ff0000","#00bfbf"]}, "legend": null},
     "stroke": {"field": "g", "type": "nominal", "scale": {"domain": ["IM","mIM","dcIM","nIM"], "range": ["#0000ff","#008000","#ff0000","#00bfbf"]}, "legend": null}
   }}
 ],
 "resolve": {"axis": {"x": "independent", "y": "independent"}}
}
], "spacing": 21},
{
 "width": 338, "height": 261,
 "title": {"text": "(c)", "orient": "bottom", "anchor": "middle", "frame": "bounds", "offset": 14, "font": "Liberation Serif", "fontSize": 20, "fontWeight": "normal", "color": "#000"},
 "layer": [
  {"data": {"name": "pc"},
   "mark": {"type": "point", "filled": true, "strokeWidth": 0.8, "strokeOpacity": 0.8},
   "encoding": {
     "x": {"field": "x", "type": "quantitative", "scale": {"domain": [0, 6.5], "nice": false, "zero": false}, "axis": {"values": [0,1,2,3,4,5,6], "format": "d", "title": "Bulk modulus without vdW"}},
     "y": {"field": "y", "type": "quantitative", "scale": {"domain": [0, 14], "nice": false}, "axis": {"values": [0,2,4,6,8,10,12,14], "title": "Bulk modulus with vdW"}},
     "color": {"field": "g", "type": "nominal", "scale": {"domain": ["IM","mIM","dcIM","nIM"], "range": ["#0000ff","#008000","#ff0000","#00bfbf"]},
       "legend": {"orient": "none", "legendX": 91, "legendY": 5, "columns": 2, "title": null, "symbolType": "circle", "symbolSize": 110, "symbolStrokeColor": "#000", "symbolStrokeWidth": 0.8, "symbolOpacity": 1, "labelFontSize": 12.5, "labelFont": "DejaVu Sans", "labelColor": "#000", "labelOffset": 12, "columnPadding": 30, "rowPadding": 3, "padding": 5, "symbolOffset": 4, "strokeColor": "#000", "fillColor": "#fff",
         "encode": {"symbols": {"update": {"fillOpacity": {"value": 1}, "strokeOpacity": {"value": 1}}}}}},
     "shape": {"field": "m", "type": "nominal", "scale": {"domain": ["o","O","s","^","v","<",">","D","d","p","h"], "range": ["circle","circle","square","triangle-up","triangle-down","triangle-left","triangle-right","diamond","M0,-1L0.6,0L0,1L-0.6,0Z","M0,-1L0.951,-0.309L0.588,0.809L-0.588,0.809L-0.951,-0.309Z","M0,-1L0.866,-0.5L0.866,0.5L0,1L-0.866,0.5L-0.866,-0.5Z"]}, "legend": null},
     "size": {"field": "m", "type": "nominal", "scale": {"domain": ["o","O","s","^","v","<",">","D","d","p","h"], "range": [60,130,55,65,65,65,65,110,70,65,36]}, "legend": null},
     "fillOpacity": {"field": "f", "type": "nominal", "scale": {"domain": ["full","half","none"], "range": [0.85,0.45,0]}, "legend": null},
     "stroke": {"condition": {"test": "datum.f === 'none'", "field": "g", "type": "nominal", "scale": {"domain": ["IM","mIM","dcIM","nIM"], "range": ["#0000ff","#008000","#ff0000","#00bfbf"]}, "legend": null}, "value": "#333"}
   }},
  {"data": {"name": "dl"},
   "mark": {"type": "line", "color": "#000", "strokeDash": [5, 3], "strokeWidth": 1.3},
   "encoding": {
     "x": {"field": "x", "type": "quantitative", "axis": {"orient": "top", "values": [0,1,2,3,4,5,6], "labels": false, "title": null}},
     "y": {"field": "y", "type": "quantitative", "axis": {"orient": "right", "values": [0,2,4,6,8,10,12,14], "labels": false, "title": null}}
   }}
 ],
 "resolve": {"axis": {"x": "independent", "y": "independent"}}
}
],
"spacing": 11,
"center": true
}
